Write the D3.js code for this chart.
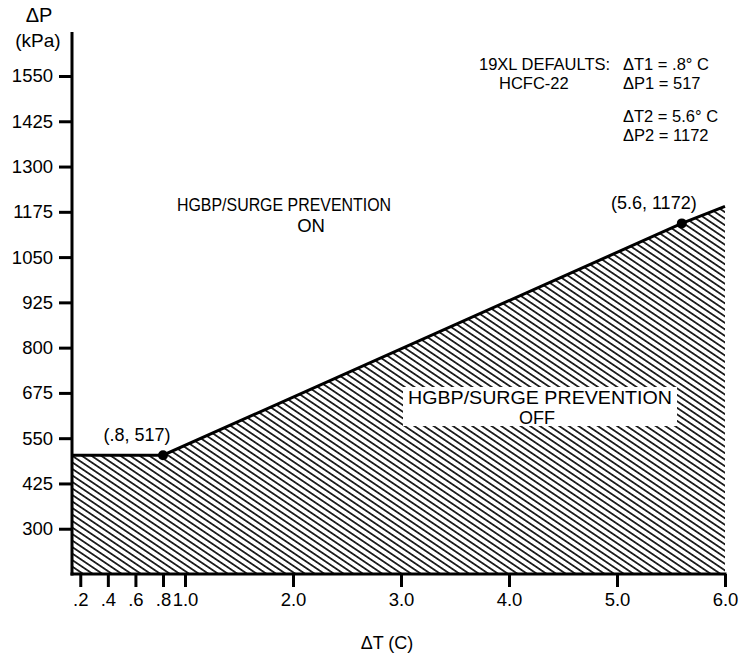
<html>
  <head>
    <meta charset="UTF-8">
    <style>
      body { margin: 0; background: #fff; }
      text { font-family: "Liberation Sans", Arial, Helvetica, sans-serif; fill: #000; }
    </style>
  </head>
  <body>
    <script src="https://d3js.org/d3.v7.min.js"></script>
    <script>

// ---- data ----
var dT = [0.14, 0.8, 5.6, 6.0];          // curve break points, deg C
var dP = [503, 503, 1143, 1190];          // curve values as drawn, kPa
var setPoints = [ { t: 0.8, p: 503, label: "(.8, 517)" },
                  { t: 5.6, p: 1143, label: "(5.6, 1172)" } ];
var xTicks = [0.2, 0.4, 0.6, 0.8, 1.0, 2.0, 3.0, 4.0, 5.0, 6.0];
var xTickLabels = [".2", ".4", ".6", ".8", "1.0", "2.0", "3.0", "4.0", "5.0", "6.0"];
var yTicks = [300, 425, 550, 675, 800, 925, 1050, 1175, 1300, 1425, 1550];
var notes = [ "19XL DEFAULTS:", "HCFC-22" ];
var defaults = [ "\u0394T1 = .8\u00b0 C", "\u0394P1 = 517", "\u0394T2 = 5.6\u00b0 C", "\u0394P2 = 1172" ];

var width = 745, height = 655;

var svg = d3.select("body").append("svg")
    .attr("width", width).attr("height", height);

// x axis is stretched below 1.0 in the original, so piecewise scale
var x = d3.scaleLinear()
    .domain([0.14, 0.8, 1.0, 6.0])
    .range([72, 163, 185, 725]);

var y = d3.scaleLinear()
    .domain([175, 1550])
    .range([574, 76]);

// hatch pattern
var defs = svg.append("defs");
var pat = defs.append("pattern")
    .attr("id", "hatch")
    .attr("patternUnits", "userSpaceOnUse")
    .attr("width", 10).attr("height", 5.4)
    .attr("patternTransform", "rotate(34)");
pat.append("line")
    .attr("x1", 0).attr("y1", 2.7).attr("x2", 10).attr("y2", 2.7)
    .style("stroke", "#000").style("stroke-width", 1.6);

var curve = dT.map(function(t, i) { return [t, dP[i]]; });

// shaded OFF region
var area = d3.area()
    .x(function(d) { return x(d[0]); })
    .y0(y(175))
    .y1(function(d) { return y(d[1]); });

svg.append("path")
    .datum(curve)
    .attr("d", area)
    .style("fill", "url(#hatch)");

// white box behind the OFF label
svg.append("rect")
    .attr("x", 403).attr("y", 387)
    .attr("width", 274).attr("height", 39)
    .style("fill", "#fff");

svg.append("text")
    .attr("x", 540).attr("y", 398).attr("dy", "0.35em")
    .attr("text-anchor", "middle")
    .attr("font-size", 18)
    .attr("textLength", 264).attr("lengthAdjust", "spacingAndGlyphs")
    .text("HGBP/SURGE PREVENTION");
svg.append("text")
    .attr("x", 537).attr("y", 418).attr("dy", "0.35em")
    .attr("text-anchor", "middle")
    .attr("font-size", 18)
    .text("OFF");

// boundary line
var line = d3.line()
    .x(function(d) { return x(d[0]); })
    .y(function(d) { return y(d[1]); });

svg.append("path")
    .datum(curve)
    .attr("d", line)
    .style("fill", "none")
    .style("stroke", "#000")
    .style("stroke-width", 3);

// set points
svg.selectAll(".pt")
    .data(setPoints)
    .enter().append("circle")
    .attr("class", "pt")
    .attr("cx", function(d) { return x(d.t); })
    .attr("cy", function(d) { return y(d.p); })
    .attr("r", 5)
    .style("fill", "#000");

svg.selectAll(".ptlabel")
    .data(setPoints)
    .enter().append("text")
    .attr("class", "ptlabel")
    .attr("x", function(d, i) { return x(d.t) + (i == 0 ? -26 : -28); })
    .attr("y", function(d) { return y(d.p) - 21; })
    .attr("dy", "0.35em")
    .attr("text-anchor", "middle")
    .attr("font-size", 18)
    .text(function(d) { return d.label; });

// axes
var yAxis = d3.axisLeft(y)
    .tickValues(yTicks)
    .tickFormat(d3.format("d"))
    .tickSize(13)
    .tickPadding(6);

var gy = svg.append("g")
    .attr("transform", "translate(" + x(0.14) + ",0)")
    .call(yAxis);
gy.select(".domain").remove();
gy.selectAll(".tick line").style("stroke-width", 3);
gy.selectAll(".tick text")
    .attr("font-size", 18.5)
    .style("font-family", "'Liberation Sans', Arial, sans-serif");

var xAxis = d3.axisBottom(x)
    .tickValues(xTicks)
    .tickFormat(function(d, i) { return xTickLabels[i]; })
    .tickSize(13)
    .tickPadding(6);

var gx = svg.append("g")
    .attr("transform", "translate(0," + y(175) + ")")
    .call(xAxis);
gx.select(".domain").remove();
gx.selectAll(".tick line").style("stroke-width", 3);
gx.selectAll(".tick text")
    .attr("font-size", 18.5)
    .style("font-family", "'Liberation Sans', Arial, sans-serif");

// axis lines
svg.append("line")
    .attr("x1", x(0.14)).attr("x2", x(0.14))
    .attr("y1", 32).attr("y2", y(175) + 1.5)
    .style("stroke", "#000").style("stroke-width", 3);
svg.append("line")
    .attr("x1", x(0.14) - 1.5).attr("x2", x(6.0) + 1.5)
    .attr("y1", y(175)).attr("y2", y(175))
    .style("stroke", "#000").style("stroke-width", 3);

// axis titles
svg.append("text")
    .attr("x", 39).attr("y", 15).attr("dy", "0.35em")
    .attr("text-anchor", "middle").attr("font-size", 20)
    .text("\u0394P");
svg.append("text")
    .attr("x", 38).attr("y", 40).attr("dy", "0.35em")
    .attr("text-anchor", "middle").attr("font-size", 19)
    .text("(kPa)");
svg.append("text")
    .attr("x", 387).attr("y", 643).attr("dy", "0.35em")
    .attr("text-anchor", "middle").attr("font-size", 18)
    .text("\u0394T (C)");

// ON region label
svg.append("text")
    .attr("x", 177).attr("y", 205).attr("dy", "0.35em")
    .attr("font-size", 18.5)
    .attr("textLength", 214).attr("lengthAdjust", "spacingAndGlyphs")
    .text("HGBP/SURGE PREVENTION");
svg.append("text")
    .attr("x", 311).attr("y", 226).attr("dy", "0.35em")
    .attr("text-anchor", "middle").attr("font-size", 18.5)
    .text("ON");

// defaults note, top right
svg.append("text")
    .attr("x", 479).attr("y", 64).attr("dy", "0.35em")
    .attr("font-size", 16.5).text(notes[0]);
svg.append("text")
    .attr("x", 499).attr("y", 83).attr("dy", "0.35em")
    .attr("font-size", 16.5).text(notes[1]);

var noteY = [64, 83, 116, 135];
svg.selectAll(".def")
    .data(defaults)
    .enter().append("text")
    .attr("class", "def")
    .attr("x", 623)
    .attr("y", function(d, i) { return noteY[i]; })
    .attr("dy", "0.35em")
    .attr("font-size", 16.5)
    .text(function(d) { return d; });

    </script>
  </body>
</html>
